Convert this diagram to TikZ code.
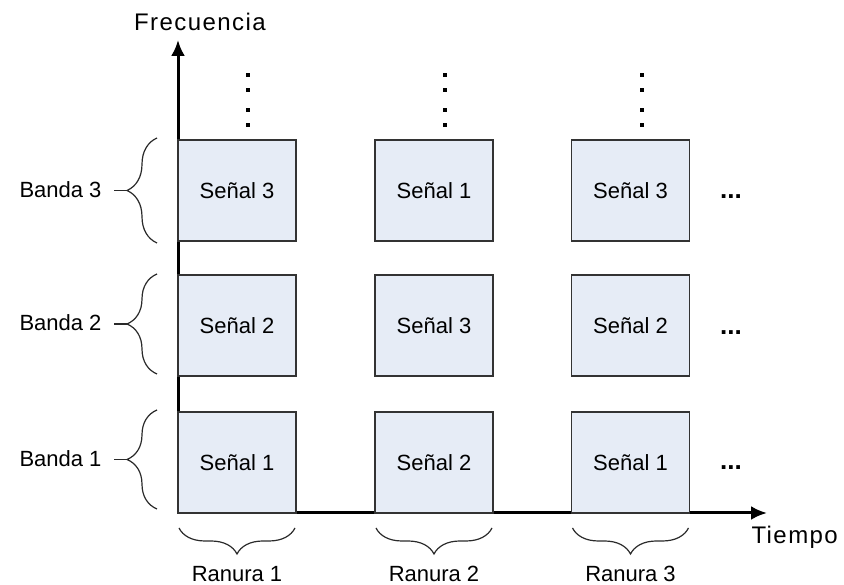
\documentclass[tikz,border=0pt]{standalone}
\usepackage{fontspec}
\setmainfont{Liberation Sans}
\newfontfamily\axisfont[LetterSpace=6]{Liberation Sans}
\usetikzlibrary{arrows.meta,positioning,decorations.pathreplacing}
\definecolor{boxfill}{HTML}{E6ECF6}
\definecolor{boxline}{HTML}{333333}
\definecolor{braceline}{HTML}{2A2A2A}
\tikzset{>=Latex,
  every node/.style={font=\fontsize{22}{26}\selectfont},
  axis/.style={-{Latex[length=16pt,width=14pt]},draw=black,line width=3pt},
  slot/.style={draw=boxline,fill=boxfill,line width=1.6pt,minimum width=118pt,
    minimum height=101pt,inner sep=0pt},
  bandbrace/.style={draw=braceline,line width=1.2pt,decorate,
    decoration={brace,amplitude=30pt}},
  slotbrace/.style={draw=braceline,line width=1.2pt,decorate,
    decoration={brace,amplitude=26pt}},
  axislabel/.style={font=\axisfont\fontsize{24}{28}\selectfont},
  more/.style={font=\bfseries\fontsize{26}{30}\selectfont,inner sep=0pt}}
\begin{document}
\begin{tikzpicture}[x=1pt,y=1pt]
\useasboundingbox (0,0) rectangle (844,585);
\coordinate (o) at (178,72);\coordinate (ytip) at (178,545);\coordinate (xtip) at (767,72);
\draw[axis] (o)--(ytip);
\draw[axis] (o)--(xtip);
\node[axislabel] (freq) at (200,563) {Frecuencia};
\node[axislabel,anchor=west] (tiempo) at (748,48) {Tiempo};
\foreach \c/\r/\x/\y/\s in {1/1/237/122.5/1,2/1/434/122.5/2,3/1/630.5/122.5/1,
  1/2/237/259.5/2,2/2/434/259.5/3,3/2/630.5/259.5/2,
  1/3/237/394.5/3,2/3/434/394.5/1,3/3/630.5/394.5/3}
  {\node[slot] (s\c\r) at (\x,\y) {Señal \s};}
\foreach \x in {248,445,642} {\foreach \y in {510,495,475,460} {\fill (\x-2,\y-2) rectangle ++(4,4);}}
\foreach \r/\y in {1/117,2/252,3/388} {\node[more] (more\r) at (731,\y) {...};}
\foreach \r/\yb/\yt in {1/76/175,2/211/311,3/342/447} {
  \draw[bandbrace] (157,\yb) -- (157,\yt);
  \coordinate (bt\r) at (127,{(\yb+\yt)/2});
  \draw[draw=braceline,line width=1.2pt] (bt\r) -- ++(-13,0);
  \node[anchor=west] (band\r) at (16,{(\yb+\yt)/2+1}) {Banda \r};}
\foreach \c/\x in {1/237,2/434,3/630.5} {
  \draw[slotbrace] (\x+58,57) -- (\x-58,57);
  \node (ranura\c) at (\x,11) {Ranura \c};}
\end{tikzpicture}
\end{document}
